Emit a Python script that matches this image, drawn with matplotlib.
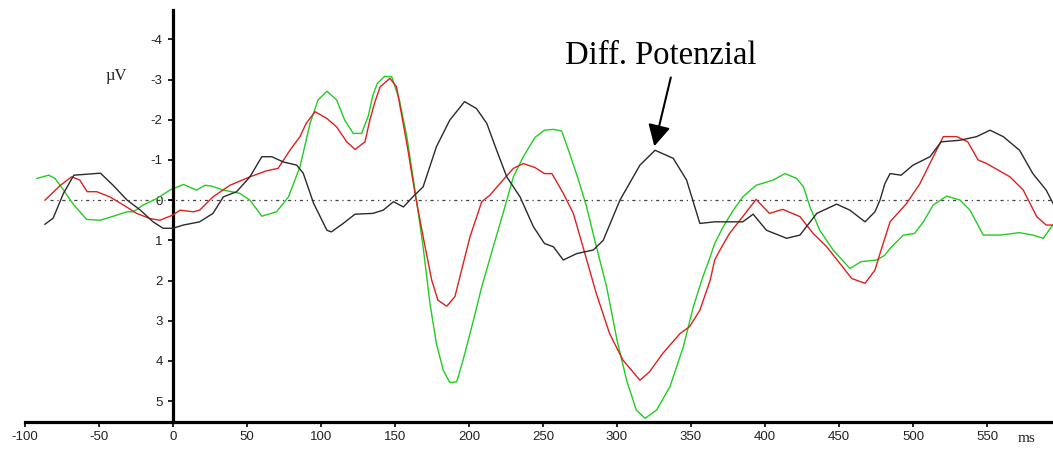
import matplotlib
matplotlib.use("Agg")
import matplotlib.pyplot as plt

plt.rcParams["axes.unicode_minus"] = False

# ---- ERP waveforms (time in ms, amplitude in µV; negative plotted upwards) ----
diff_t = [-86.5, -81, -74, -67, -49, -40.5, -31, -22, -13.5, -6.7, 0, 7, 18, 27, 34, 43, 52,
          60, 66.7, 74.5, 83.6, 88, 95, 104, 107, 115, 123, 135, 142, 149, 155.7, 162, 169,
          178, 187, 197, 205, 212, 218.7, 225.5, 234.5, 243.5, 251, 257, 263.7, 272.8, 284,
          290.7, 302, 315.5, 325.7, 338, 347, 356, 366, 376, 385, 392, 401, 414.6, 423.6,
          435, 448.4, 457.4, 467.6, 474.3, 477.7, 481, 484.5, 492, 500, 511.5, 519, 531.8,
          543, 552, 561, 572, 581, 590, 594.6]
diff_v = [0.6, 0.45, -0.17, -0.62, -0.67, -0.37, 0, 0.25, 0.54, 0.7, 0.7, 0.62, 0.54, 0.33,
          -0.08, -0.21, -0.58, -1.08, -1.08, -0.95, -0.87, -0.67, 0.08, 0.75, 0.79, 0.58,
          0.35, 0.33, 0.25, 0.04, 0.17, -0.08, -0.33, -1.33, -1.99, -2.45, -2.28, -1.91,
          -1.24, -0.58, -0.08, 0.66, 1.08, 1.16, 1.49, 1.33, 1.24, 1.0, 0, -0.87, -1.24,
          -1.04, -0.5, 0.58, 0.54, 0.54, 0.54, 0.35, 0.75, 0.95, 0.87, 0.33, 0.1, 0.25,
          0.54, 0.29, 0.0, -0.41, -0.66, -0.62, -0.87, -1.08, -1.45, -1.49, -1.58, -1.74,
          -1.58, -1.24, -0.66, -0.25, 0.08]

red_t = [-86.5, -76, -68.5, -63, -58, -51.6, -42.6, -33.6, -24.5, -15.5, -8.8, 0, 4.7,
         13.7, 18, 27, 38.5, 52, 63.3, 71, 79, 85.8, 90, 96, 104, 110.6, 117.4, 123, 129.7,
         133, 136.5, 140, 146.6, 151, 158, 163.5, 169, 174.8, 179, 185, 190.5, 195, 200.7,
         208.6, 214, 223, 230, 236.7, 244.6, 251, 256, 263.7, 270.5, 277, 286, 295, 304,
         315.5, 322, 331, 342.6, 349, 356, 363, 366, 369.6, 376, 385, 394, 403, 412, 423.6,
         432.6, 441.7, 450.7, 458.6, 467.6, 474.3, 477.7, 484.5, 495.7, 504.7, 513.7,
         520.5, 529.5, 537, 544, 549.8, 565.5, 574.5, 583.6, 590, 594.6]
red_v = [0, -0.37, -0.58, -0.5, -0.21, -0.21, -0.08, 0.12, 0.33, 0.46, 0.5, 0.37, 0.25,
         0.29, 0.25, -0.08, -0.37, -0.58, -0.73, -0.79, -1.24, -1.58, -1.91, -2.2, -2.03,
         -1.82, -1.45, -1.26, -1.45, -1.99, -2.45, -2.82, -3.03, -2.82, -1.41, -0.17, 0.91,
         1.99, 2.49, 2.64, 2.4, 1.74, 0.91, 0.04, -0.12, -0.5, -0.79, -0.91, -0.81, -0.66,
         -0.66, -0.17, 0.33, 1.16, 2.32, 3.32, 3.98, 4.48, 4.27, 3.81, 3.32, 3.15, 2.74,
         1.99, 1.49, 1.24, 0.83, 0.41, -0.02, 0.33, 0.23, 0.41, 0.83, 1.16, 1.58, 1.95,
         2.07, 1.74, 1.33, 0.54, 0.08, -0.41, -1.08, -1.58, -1.58, -1.45, -1.0, -0.91,
         -0.58, -0.25, 0.41, 0.62, 0.62]

green_t = [-92, -84, -79.7, -74, -67, -58.3, -49.3, -40.3, -31, -26.8, -20, -11, -2, 7, 16,
           21.6, 26, 34, 45, 52, 60, 70, 78, 85.8, 92.6, 98, 104, 110.6, 116, 121.8, 127.5,
           132, 135, 138, 143, 147.8, 153, 158, 163.5, 169, 173.6, 178, 182.6, 187, 191.7,
           196, 203, 208.6, 216.4, 223, 230, 236.7, 244.6, 251, 257, 262.6, 268, 274, 279.5,
           285, 293, 300, 306.5, 313, 319, 326.8, 335.8, 344.8, 351.6, 358, 363, 366,
           371.8, 378.6, 385, 394, 405.6, 413.5, 421.4, 426, 430.4, 437, 446, 457.4, 465,
           475.5, 481, 484.5, 493.5, 501, 507, 513.7, 522.8, 531.8, 538.5, 547.5, 558.8,
           572, 581, 588, 594.4]
green_v = [-0.54, -0.62, -0.54, -0.25, 0.12, 0.48, 0.5, 0.4, 0.29, 0.29, 0.12, -0.04, -0.25,
           -0.39, -0.25, -0.37, -0.35, -0.25, -0.17, 0, 0.4, 0.29, -0.08, -0.83, -1.91,
           -2.49, -2.71, -2.49, -1.99, -1.66, -1.66, -2.1, -2.6, -2.9, -3.08, -3.07, -2.49,
           -1.58, -0.25, 1.16, 2.57, 3.57, 4.23, 4.54, 4.52, 3.98, 2.99, 2.16, 1.16, 0.33,
           -0.58, -1.08, -1.56, -1.74, -1.76, -1.72, -1.16, -0.5, 0.17, 1.0, 2.16, 3.48,
           4.48, 5.22, 5.43, 5.22, 4.64, 3.65, 2.65, 1.91, 1.41, 1.08, 0.66, 0.25, -0.08,
           -0.37, -0.5, -0.66, -0.54, -0.33, 0.17, 0.75, 1.24, 1.7, 1.53, 1.49, 1.37, 1.2,
           0.87, 0.83, 0.54, 0.12, -0.1, 0, 0.25, 0.87, 0.87, 0.81, 0.87, 0.95, 0.62]

x_ticks = [-100, -50, 0, 50, 100, 150, 200, 250, 300, 350, 400, 450, 500, 550]
y_ticks = [-4, -3, -2, -1, 0, 1, 2, 3, 4, 5]

annot_label = "Diff. Potenzial"
annot_peak = (325.2, -1.34)
annot_text_pos = (329.7, -3.6)

baseline_start = -83
x_range = (-100, 594.6)
y_range = (5.52, -4.73)

# ---- figure ----
fig = plt.figure(figsize=(10.53, 4.5), dpi=100)
ax = fig.add_axes([25 / 1053, 28 / 450, 1028 / 1053, 412 / 450])
ax.set_xlim(*x_range)
ax.set_ylim(*y_range)

# dotted zero baseline
ax.hlines(0, baseline_start, x_range[1], colors="#444444", linewidth=0.9,
          linestyles=(0, (2.5, 3, 1, 3)), zorder=1)

ax.plot(green_t, green_v, color="#22cc22", linewidth=1.0, zorder=2)
ax.plot(red_t, red_v, color="#dd2020", linewidth=1.0, zorder=3)
ax.plot(diff_t, diff_v, color="#2a2a2a", linewidth=1.0, zorder=4)

# axis styling: vertical axis at t = 0, thick black lines
for side in ("top", "right"):
    ax.spines[side].set_visible(False)
ax.spines["left"].set_position(("data", 0))
ax.spines["left"].set_linewidth(2.3)
ax.spines["bottom"].set_linewidth(2.3)

ax.set_xticks(x_ticks)
ax.set_xticklabels([str(v) for v in x_ticks])
ax.set_yticks(y_ticks)
ax.set_yticklabels([str(v) for v in y_ticks])
ax.tick_params(axis="both", direction="out", length=3.5, width=1.2, color="black",
               labelsize=9.5, labelcolor="#222222")
ax.tick_params(axis="y", pad=4)
ax.tick_params(axis="x", pad=3)
for lab in ax.get_xticklabels() + ax.get_yticklabels():
    lab.set_family("Liberation Sans")

ax.text(-38.5, -3.1, "µV", family="Liberation Serif", fontsize=12, color="#222222",
        ha="center", va="center")
# unit of the time axis, level with the tick labels
ax.annotate("ms", xy=(577, 0), xycoords=("data", "axes fraction"),
            xytext=(0, -16), textcoords="offset pixels",
            family="Liberation Serif", fontsize=11, color="#222222",
            ha="center", va="center")

ax.annotate(annot_label, xy=annot_peak, xytext=annot_text_pos, textcoords="data",
            ha="center", va="center", family="Liberation Serif", fontsize=23.5,
            color="black",
            arrowprops=dict(arrowstyle="-|>,head_length=0.55,head_width=0.29",
                            color="black", linewidth=1.5, relpos=(0.56, 0.0),
                            shrinkA=3, shrinkB=0))

fig.savefig("out.png", dpi=100)
